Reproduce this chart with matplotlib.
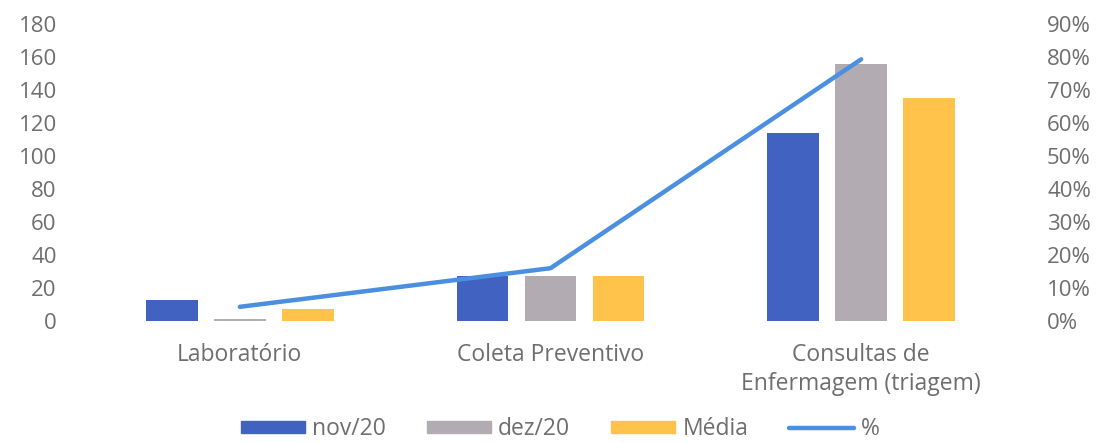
import matplotlib
matplotlib.use("Agg")
import matplotlib.pyplot as plt
import numpy as np
from matplotlib.patches import Patch
from matplotlib.lines import Line2D

categories = ["Laboratório", "Coleta Preventivo", "Consultas de\nEnfermagem (triagem)"]
nov20 = [13, 27, 114]
dez20 = [1, 27, 156]
media = [7, 27, 135]
pct = [0.043, 0.16, 0.793]

left_ticks = list(range(0, 181, 20))
right_ticks = [i / 10 for i in range(0, 10)]

c_nov = "#4262C2"
c_dez = "#B2ACB2"
c_med = "#FFC24A"
c_line = "#4A8FE0"
txt = "#6E6E6E"

plt.rcParams["font.family"] = ["Open Sans", "DejaVu Sans"]

fig = plt.figure(figsize=(11, 4.43), dpi=100)
ax = fig.add_axes([84.5 / 1100, 122 / 443, 932 / 1100, 297 / 443])

x = np.arange(len(categories))
w = 0.167
step = 0.219
ax.bar(x - step, nov20, w, color=c_nov)
ax.bar(x, dez20, w, color=c_dez)
ax.bar(x + step, media, w, color=c_med)

ax.set_xlim(-0.5, 2.5)
ax.set_ylim(0, 180)
ax.set_yticks(left_ticks)
ax.set_xticks(x)
ax.set_xticklabels(categories, linespacing=1.25)
ax.tick_params(axis="y", length=0, pad=20, labelsize=16, labelcolor=txt)
ax.tick_params(axis="x", length=0, pad=16, labelsize=16.5, labelcolor=txt)
for s in ax.spines.values():
    s.set_visible(False)

ax2 = ax.twinx()
ax2.plot(x, pct, color=c_line, lw=3.2, solid_capstyle="round")
ax2.set_ylim(0, 0.9)
ax2.set_yticks(right_ticks)
ax2.set_yticklabels([f"{int(round(t * 100))}%" for t in right_ticks])
ax2.tick_params(axis="y", length=0, pad=22, labelsize=16, labelcolor=txt)
for s in ax2.spines.values():
    s.set_visible(False)

handles = [
    Patch(color=c_nov),
    Patch(color=c_dez),
    Patch(color=c_med),
    Line2D([0], [0], color=c_line, lw=3.2, solid_capstyle="round"),
]
leg = fig.legend(handles, ["nov/20", "dez/20", "Média", "%"], loc="center",
                 bbox_to_anchor=(560 / 1100, 1 - 429 / 443), ncol=4, frameon=False,
                 fontsize=16.5, handlelength=2.8, handleheight=0.45, handletextpad=0.3,
                 columnspacing=1.8, borderpad=0)
for t in leg.get_texts():
    t.set_color(txt)

fig.savefig("out.png", dpi=100)
